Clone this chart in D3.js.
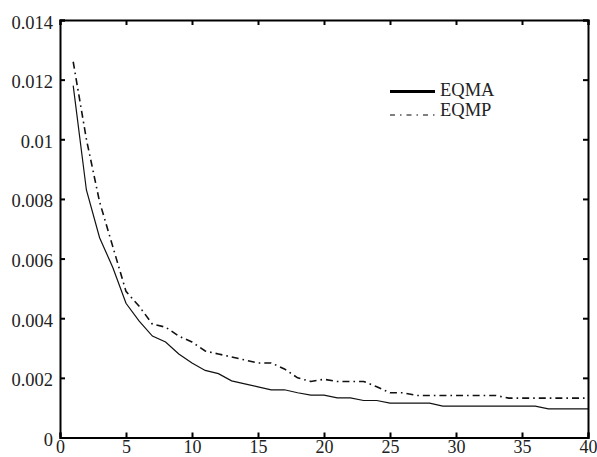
<!DOCTYPE html>
<html>
<head>
<meta charset="utf-8">
<script src="https://cdn.jsdelivr.net/npm/d3@7"></script>
<style>
  body { margin: 0; background: #fff; }
  text { font-family: "Liberation Serif", "DejaVu Serif", serif; fill: #222; }
</style>
</head>
<body>
<div id="chart"></div>
<script>
"use strict";

const iterations = d3.range(1, 41);

const eqma = [
  0.0118, 0.0083, 0.0067, 0.0057, 0.0045, 0.0039, 0.0034, 0.0032, 0.0028, 0.0025,
  0.00225, 0.00214, 0.0019, 0.0018, 0.0017, 0.0016, 0.0016, 0.0015, 0.00142, 0.00142,
  0.00133, 0.00133, 0.00124, 0.00124, 0.00115, 0.00115, 0.00115, 0.00115, 0.00105, 0.00105,
  0.00105, 0.00105, 0.00105, 0.00105, 0.00105, 0.00105, 0.00096, 0.00096, 0.00096, 0.00096
];

const eqmp = [
  0.0126, 0.0100, 0.0079, 0.0064, 0.0049, 0.0044, 0.0038, 0.0037, 0.0034, 0.0032,
  0.0029, 0.0028, 0.0027, 0.0026, 0.0025, 0.0025, 0.0023, 0.0020, 0.00188, 0.00195,
  0.00188, 0.00188, 0.00188, 0.0017, 0.0015, 0.0015, 0.00141, 0.00141, 0.00141, 0.00141,
  0.00141, 0.00141, 0.00141, 0.00132, 0.00132, 0.00132, 0.00132, 0.00132, 0.00132, 0.00132
];

const xTicks = [0, 5, 10, 15, 20, 25, 30, 35, 40];
const yTicks = [0, 0.002, 0.004, 0.006, 0.008, 0.01, 0.012, 0.014];
const yTickLabels = ["0", "0.002", "0.004", "0.006", "0.008", "0.01", "0.012", "0.014"];
const seriesNames = ["EQMA", "EQMP"];

const width = 597;
const height = 457;
const margin = { top: 20, right: 9, bottom: 19.5, left: 60 };

const svg = d3.select("#chart")
  .append("svg")
  .attr("width", width)
  .attr("height", height);

const x = d3.scaleLinear().domain([0, 40]).range([margin.left, width - margin.right]);
const y = d3.scaleLinear().domain([0, 0.014]).range([height - margin.bottom, margin.top]);

// lignes de données
const line = d3.line()
  .x((d, i) => x(iterations[i]))
  .y((d) => y(d));

svg.append("path")
  .datum(eqma)
  .attr("d", line)
  .attr("fill", "none")
  .attr("stroke", "#111")
  .attr("stroke-width", 1.2);

svg.append("path")
  .datum(eqmp)
  .attr("d", line)
  .attr("fill", "none")
  .attr("stroke", "#111")
  .attr("stroke-width", 1.6)
  .attr("stroke-dasharray", "7,4,1.6,4");

// axes avec graduations vers l'intérieur
const tickLen = 5;
svg.append("g")
  .attr("transform", `translate(0, ${y(0)})`)
  .call(d3.axisBottom(x).tickValues(xTicks).tickSize(-tickLen).tickPadding(6))
  .call((g) => g.selectAll("text").attr("dy", null).attr("y", 15.5).style("font-size", "18px"));

svg.append("g")
  .attr("transform", `translate(0, ${y(0.014)})`)
  .call(d3.axisTop(x).tickValues(xTicks).tickSize(-tickLen).tickFormat(""));

svg.append("g")
  .attr("transform", `translate(${x(0)}, 0)`)
  .call(d3.axisLeft(y).tickValues(yTicks).tickSize(-tickLen)
    .tickFormat((d, i) => yTickLabels[i]))
  .call((g) => g.selectAll("text").attr("dy", null).attr("x", -7).attr("y", 8).style("font-size", "18.5px"));

svg.append("g")
  .attr("transform", `translate(${x(40)}, 0)`)
  .call(d3.axisRight(y).tickValues(yTicks).tickSize(-tickLen).tickFormat(""));

svg.selectAll(".domain").attr("stroke", "#000").attr("stroke-width", 2);
svg.selectAll(".tick line").attr("stroke", "#000").attr("stroke-width", 2);
svg.selectAll(".tick text").attr("fill", "#222");
svg.selectAll("g").attr("font-family", null);

// légende
const legend = svg.append("g").attr("transform", "translate(390, 0)");

legend.append("line")
  .attr("x1", 0).attr("x2", 45)
  .attr("y1", 91.5).attr("y2", 91.5)
  .attr("stroke", "#000")
  .attr("stroke-width", 3);

legend.append("line")
  .attr("x1", 0).attr("x2", 45)
  .attr("y1", 115).attr("y2", 115)
  .attr("stroke", "#000")
  .attr("stroke-width", 1)
  .attr("stroke-dasharray", "5,5,1.5,5");

legend.selectAll("text")
  .data(seriesNames)
  .join("text")
  .attr("x", 50)
  .attr("y", (d, i) => 96 + i * 20)
  .style("font-size", "18.5px")
  .text((d) => d);
</script>
</body>
</html>
